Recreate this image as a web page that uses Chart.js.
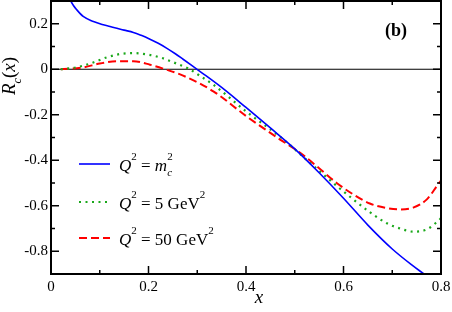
<!DOCTYPE html>
<html>
<head>
<meta charset="utf-8">
<script src="https://cdn.jsdelivr.net/npm/chart.js@4.4.1/dist/chart.umd.min.js"></script>
<style>
  body { margin: 0; background: #fff; }
  canvas { display: block; }
</style>
</head>
<body>
<canvas id="chart" width="452" height="312"></canvas>
<script>
// values
const blueX = [0.038, 0.046, 0.053, 0.066, 0.087, 0.105, 0.121, 0.135, 0.15, 0.169, 0.185, 0.203, 0.22, 0.237, 0.255, 0.271, 0.29, 0.306, 0.35, 0.40, 0.45, 0.50, 0.55, 0.60, 0.65, 0.70, 0.74, 0.765];
const blueY = [0.31, 0.28, 0.261, 0.232, 0.21, 0.197, 0.188, 0.18, 0.172, 0.162, 0.149, 0.132, 0.114, 0.093, 0.068, 0.044, 0.015, -0.01, -0.08, -0.168, -0.258, -0.35, -0.455, -0.567, -0.685, -0.79, -0.86, -0.9];

const greenX = [0.02, 0.046, 0.07, 0.087, 0.114, 0.142, 0.169, 0.2, 0.227, 0.254, 0.282, 0.302, 0.333, 0.40, 0.477, 0.531, 0.579, 0.62, 0.654, 0.689, 0.716, 0.743, 0.771, 0.794, 0.8];
const greenY = [0.0, 0.006, 0.018, 0.03, 0.052, 0.067, 0.071, 0.064, 0.05, 0.028, 0.003, -0.024, -0.068, -0.185, -0.309, -0.411, -0.50, -0.572, -0.628, -0.677, -0.70, -0.714, -0.704, -0.667, -0.655];

const redX = [0.02, 0.066, 0.1, 0.135, 0.169, 0.203, 0.237, 0.271, 0.333, 0.401, 0.47, 0.511, 0.55, 0.586, 0.62, 0.654, 0.689, 0.716, 0.743, 0.771, 0.794, 0.8];
const redY = [0.0, 0.008, 0.025, 0.035, 0.035, 0.02, -0.002, -0.028, -0.097, -0.207, -0.309, -0.367, -0.435, -0.5, -0.55, -0.59, -0.61, -0.616, -0.608, -0.572, -0.506, -0.49];

const zeroX = [0, 0.8];
const zeroY = [0, 0];

const xTicks = [0, 0.2, 0.4, 0.6, 0.8];
const xMinor = [0.1, 0.3, 0.5, 0.7];
const yTicks = [-0.8, -0.6, -0.4, -0.2, 0, 0.2];
const yMinor = [-0.7, -0.5, -0.3, -0.1, 0.1];

// legend labels, split into pieces for italics / sub / superscripts
const blueLabel = [{ t: 'Q', i: 1 }, { t: '2', sup: 1 }, { t: ' = ' }, { t: 'm', i: 1 }, { t: 'c', i: 1, sub: 1 }, { t: '2', sup: 1, stack: 1 }];
const greenLabel = [{ t: 'Q', i: 1 }, { t: '2', sup: 1 }, { t: ' = 5 GeV' }, { t: '2', sup: 1 }];
const redLabel = [{ t: 'Q', i: 1 }, { t: '2', sup: 1 }, { t: ' = 50 GeV' }, { t: '2', sup: 1 }];

const FONT = '"Liberation Serif", "Times New Roman", serif';

function pts(xs, ys) {
  return xs.map((x, i) => ({ x: x, y: ys[i] }));
}

// draws text made of pieces; returns the end x
function drawParts(ctx, x, y, parts, size) {
  let cx = x;
  let lastX = x;
  for (const p of parts) {
    const fs = (p.sup || p.sub) ? Math.round(size * 0.65) : size;
    ctx.font = (p.i ? 'italic ' : '') + fs + 'px ' + FONT;
    const dy = p.sup ? -size * 0.62 : p.sub ? size * 0.3 : 0;
    const w = ctx.measureText(p.t).width;
    const px = p.stack ? lastX : cx;
    ctx.fillText(p.t, px, y + dy);
    if (p.stack) {
      cx = Math.max(cx, px + w);
    } else {
      lastX = px;
      cx = px + w;
    }
  }
  return cx;
}

function partsWidth(ctx, parts, size) {
  let w = 0;
  for (const p of parts) {
    const fs = (p.sup || p.sub) ? Math.round(size * 0.65) : size;
    ctx.font = (p.i ? 'italic ' : '') + fs + 'px ' + FONT;
    if (!p.stack) w += ctx.measureText(p.t).width;
  }
  return w;
}

const datasets = [
  { data: pts(blueX, blueY), borderColor: '#0000ff', borderWidth: 1.6, label: blueLabel },
  { data: pts(greenX, greenY), borderColor: '#1aa81a', borderWidth: 2.2, borderDash: [2, 4.5], label: greenLabel },
  { data: pts(redX, redY), borderColor: '#ff0000', borderWidth: 2, borderDash: [8, 4], label: redLabel },
  { data: pts(zeroX, zeroY), borderColor: '#000', borderWidth: 1.2, label: null, order: 10 }
];

const frame = {
  id: 'frame',
  afterDraw(chart) {
    const { ctx, chartArea: a, scales: { x, y } } = chart;
    ctx.save();
    ctx.strokeStyle = '#000';
    ctx.lineWidth = 1.5;
    ctx.beginPath();
    const tickX = (v, len) => {
      const px = x.getPixelForValue(v);
      ctx.moveTo(px, a.bottom); ctx.lineTo(px, a.bottom - len);
      ctx.moveTo(px, a.top); ctx.lineTo(px, a.top + len);
    };
    const tickY = (v, len) => {
      const py = y.getPixelForValue(v);
      ctx.moveTo(a.left, py); ctx.lineTo(a.left + len, py);
      ctx.moveTo(a.right, py); ctx.lineTo(a.right - len, py);
    };
    xTicks.forEach(v => tickX(v, 8));
    xMinor.forEach(v => tickX(v, 4));
    yTicks.forEach(v => tickY(v, 8));
    yMinor.forEach(v => tickY(v, 4));
    ctx.stroke();
    ctx.lineWidth = 2;
    ctx.strokeRect(a.left, a.top, a.right - a.left, a.bottom - a.top);

    // legend
    ctx.fillStyle = '#000';
    ctx.textBaseline = 'alphabetic';
    const rows = [164, 202, 238];
    chart.data.datasets.filter(d => d.label).forEach((d, i) => {
      const ly = rows[i];
      ctx.save();
      ctx.strokeStyle = d.borderColor;
      ctx.lineWidth = d.borderWidth;
      ctx.setLineDash(d.borderDash || []);
      ctx.beginPath();
      ctx.moveTo(79, ly);
      ctx.lineTo(110, ly);
      ctx.stroke();
      ctx.restore();
      drawParts(ctx, 119, ly + 6.5, d.label, 17);
    });

    // panel tag
    ctx.font = 'bold 18px ' + FONT;
    ctx.fillText('(b)', 385, 36);

    // axis titles
    ctx.font = 'italic 19px ' + FONT;
    ctx.textAlign = 'center';
    ctx.fillText('x', 259, 303);
    ctx.textAlign = 'left';
    const yTitle = [{ t: 'R', i: 1 }, { t: 'c', i: 1, sub: 1 }, { t: '(' }, { t: 'x', i: 1 }, { t: ')' }];
    ctx.translate(15, 76);
    ctx.rotate(-Math.PI / 2);
    const w = partsWidth(ctx, yTitle, 19);
    drawParts(ctx, -w / 2, 0, yTitle, 19);
    ctx.restore();
  }
};

new Chart(document.getElementById('chart'), {
  type: 'scatter',
  data: { datasets: datasets },
  options: {
    responsive: false,
    animation: false,
    devicePixelRatio: 1,
    layout: { padding: { left: 0, right: 11, top: 1, bottom: 0 } },
    elements: {
      point: { radius: 0 },
      line: { cubicInterpolationMode: 'monotone', fill: false }
    },
    datasets: { scatter: { showLine: true } },
    plugins: { legend: { display: false }, tooltip: { enabled: false } },
    scales: {
      x: {
        type: 'linear',
        min: 0,
        max: 0.8,
        grid: { display: false, drawTicks: false },
        border: { display: false },
        afterBuildTicks: s => { s.ticks = xTicks.map(v => ({ value: v })); },
        afterFit: s => { s.height = 38; s.paddingLeft = 0; s.paddingRight = 0; },
        ticks: {
          padding: 4,
          color: '#000',
          font: { family: FONT, size: 15 },
          maxRotation: 0,
          callback: v => v === 0 ? '0' : v.toFixed(1)
        }
      },
      y: {
        type: 'linear',
        min: -0.9,
        max: 0.3,
        grid: { display: false, drawTicks: false },
        border: { display: false },
        afterBuildTicks: s => { s.ticks = yTicks.map(v => ({ value: v })); },
        afterFit: s => { s.width = 51; s.paddingTop = 0; s.paddingBottom = 0; },
        ticks: {
          padding: 3,
          color: '#000',
          font: { family: FONT, size: 15 },
          callback: v => v === 0 ? '0' : v.toFixed(1)
        }
      }
    }
  },
  plugins: [frame]
});
</script>
</body>
</html>
